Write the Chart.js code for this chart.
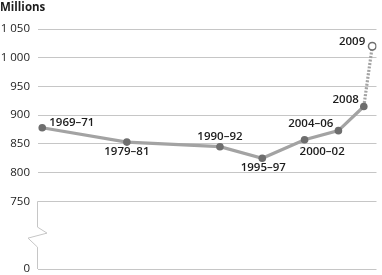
<!DOCTYPE html>
<html>
<head>
<meta charset="utf-8">
<script src="https://cdn.jsdelivr.net/npm/chart.js@4"></script>
<style>
  html, body { margin: 0; padding: 0; background: #fff; }
  #chart { display: block; }
</style>
</head>
<body>
<canvas id="chart" width="382" height="275"></canvas>
<script>
const periods = ["1969–71", "1979–81", "1990–92", "1995–97", "2000–02", "2004–06", "2008", "2009"];
const periodMidYears = [1970, 1980, 1991, 1996, 2001, 2005, 2008, 2009];
const hungryMillions = [878, 853, 845, 825, 857, 873, 915, 1020];

// axis is broken between 0 and 750; the floor value stands in for 0
const axisBreakFloor = 632;
const yTickValues = [axisBreakFloor, 750, 800, 850, 900, 950, 1000, 1050];
const yTickLabels = ["0", "750", "800", "850", "900", "950", "1 000", "1 050"];

// label placement relative to each point: [dx, dy, align]
const labelOffsets = [
  [7, -5, "left"],
  [0, 10, "center"],
  [0, -10, "center"],
  [1, 10, "center"],
  [-5, 12, "left"],
  [-5, -7, "right"],
  [-5, -7, "right"],
  [-7, -5, "right"],
];

const colors = {
  line: "#a3a3a3",
  point: "#6e6e6e",
  grid: "#c6c6c6",
  text: "#1c1c1c",
};

const fontFamily = "'Open Sans', 'Noto Sans', sans-serif";

const pointLabels = {
  id: "pointLabels",
  afterDatasetsDraw(chart) {
    const { ctx } = chart;
    const meta = chart.getDatasetMeta(0);
    ctx.save();
    ctx.font = `600 11.5px ${fontFamily}`;
    ctx.fillStyle = colors.text;
    ctx.textBaseline = "middle";
    meta.data.forEach((pt, i) => {
      const [dx, dy, align] = labelOffsets[i];
      ctx.textAlign = align;
      ctx.fillText(periods[i], pt.x + dx, pt.y + dy);
    });
    ctx.restore();
  },
};

const axisBreak = {
  id: "axisBreak",
  beforeDatasetsDraw(chart) {
    const { ctx, chartArea } = chart;
    const y = chart.scales.y;
    const x0 = chartArea.left - 1;
    const top = y.getPixelForValue(750);
    const bottom = y.getPixelForValue(axisBreakFloor);
    const mid = (top + bottom) / 2;
    ctx.save();
    ctx.strokeStyle = colors.grid;
    ctx.lineWidth = 1;
    ctx.beginPath();
    ctx.moveTo(x0 + 0.5, top);
    ctx.lineTo(x0 + 0.5, mid - 8);
    ctx.lineTo(x0 + 10, mid - 2);
    ctx.lineTo(x0 - 9, mid + 3);
    ctx.lineTo(x0 + 0.5, mid + 12);
    ctx.lineTo(x0 + 0.5, bottom);
    ctx.stroke();
    ctx.restore();
  },
};

const pointFill = hungryMillions.map((_, i) =>
  i === hungryMillions.length - 1 ? "#ffffff" : colors.point
);

new Chart(document.getElementById("chart"), {
  type: "line",
  data: {
    datasets: [
      {
        data: periodMidYears.map((yr, i) => ({ x: yr, y: hungryMillions[i] })),
        borderColor: colors.line,
        borderWidth: 3.2,
        pointRadius: 3.8,
        pointBackgroundColor: pointFill,
        pointBorderColor: colors.point,
        pointBorderWidth: pointFill.map((c) => (c === "#ffffff" ? 1.5 : 0)),
        tension: 0,
        segment: {
          borderDash: (ctx) =>
            ctx.p1DataIndex === hungryMillions.length - 1 ? [2, 1.5] : undefined,
        },
      },
    ],
  },
  options: {
    responsive: false,
    animation: false,
    layout: { padding: { left: 0, right: 2, top: 0, bottom: 6 } },
    plugins: {
      legend: { display: false },
      tooltip: { enabled: false },
      title: {
        display: true,
        text: "Millions",
        align: "start",
        color: colors.text,
        font: { family: fontFamily, size: 11.5, weight: "bold" },
        padding: { top: 1, bottom: 14.2 },
      },
    },
    scales: {
      x: {
        type: "linear",
        min: 1969.5,
        max: 2009.5,
        display: false,
      },
      y: {
        min: axisBreakFloor,
        max: 1050,
        afterBuildTicks: (scale) => {
          scale.ticks = yTickValues.map((v) => ({ value: v }));
        },
        afterFit: (scale) => {
          scale.width = 38;
          scale.paddingTop = 0;
          scale.paddingBottom = 0;
        },
        border: { display: false },
        grid: {
          color: (ctx) => (ctx.tick && ctx.tick.value < 750 && ctx.tick.value !== axisBreakFloor ? "transparent" : colors.grid),
          drawTicks: false,
          lineWidth: 1,
        },
        ticks: {
          padding: 8,
          color: colors.text,
          font: { family: fontFamily, size: 11.5 },
          callback: (value) => {
            const idx = yTickValues.indexOf(value);
            return idx >= 0 ? yTickLabels[idx] : "";
          },
        },
      },
    },
  },
  plugins: [pointLabels, axisBreak],
});
</script>
</body>
</html>
